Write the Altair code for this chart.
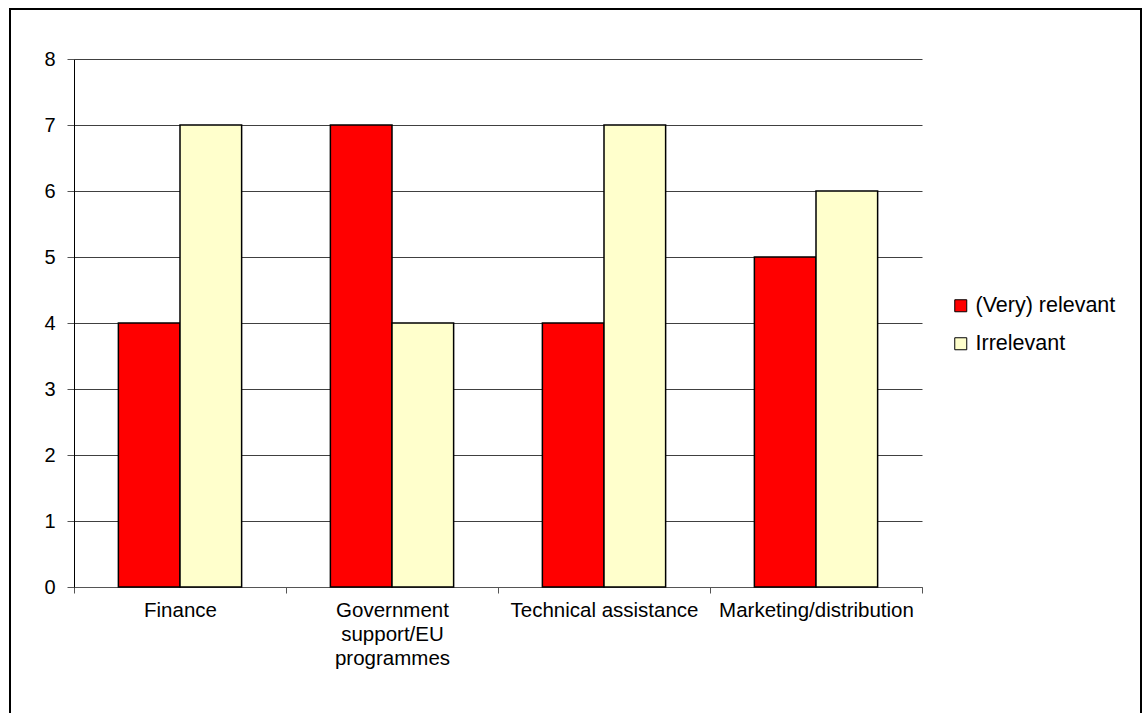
import altair as alt
import pandas as pd

# Source values
categories = [
    "Finance",
    "Government support/EU programmes",
    "Technical assistance",
    "Marketing/distribution",
]
series_names = ["(Very) relevant", "Irrelevant"]
relevant = [4, 7, 4, 5]
irrelevant = [7, 4, 7, 6]
series_colors = ["#FF0000", "#FFFFCC"]
y_ticks = [0, 1, 2, 3, 4, 5, 6, 7, 8]

rows = []
for cat, r, i in zip(categories, relevant, irrelevant):
    rows.append({"category": cat, "series": series_names[0], "value": r})
    rows.append({"category": cat, "series": series_names[1], "value": i})
df = pd.DataFrame(rows)

FONT = "Liberation Sans"

label_expr = (
    "datum.value == 'Government support/EU programmes' "
    "? ['Government', 'support/EU', 'programmes'] : datum.value"
)

bars = alt.Chart(df).mark_bar(stroke="black", strokeWidth=1.5).encode(
    x=alt.X(
        "category:N",
        sort=categories,
        title=None,
        scale=alt.Scale(paddingInner=0, paddingOuter=0),
        axis=alt.Axis(
            labelAngle=0,
            labelFont=FONT,
            labelFontSize=20.5,
            labelColor="black",
            labelLineHeight=24,
            labelExpr=label_expr,
            labelLimit=400,
            labelPadding=7,
            tickBand="extent",
            tickSize=6,
            tickColor="#555555",
            domainColor="#555555",
            grid=False,
        ),
    ),
    xOffset=alt.XOffset(
        "series:N",
        sort=series_names,
        scale=alt.Scale(paddingInner=0, paddingOuter=0.72),
    ),
    y=alt.Y(
        "value:Q",
        title=None,
        scale=alt.Scale(domain=[0, 8], nice=False),
        axis=alt.Axis(
            values=y_ticks,
            labelFont=FONT,
            labelFontSize=20,
            labelColor="black",
            labelPadding=12,
            tickSize=7,
            tickColor="#555555",
            domainColor="black",
            gridColor="#404040",
            gridWidth=1,
        ),
    ),
    fill=alt.Fill(
        "series:N",
        sort=series_names,
        scale=alt.Scale(domain=series_names, range=series_colors),
        legend=alt.Legend(
            title=None,
            orient="none",
            legendX=876,
            legendY=236,
            padding=0,
            symbolType="square",
            symbolSize=144,
            symbolStrokeColor="black",
            symbolStrokeWidth=1,
            symbolOpacity=1,
            labelFont=FONT,
            labelFontSize=21.5,
            labelColor="black",
            labelOffset=4,
            labelLimit=400,
            rowPadding=15,
        ),
    ),
)

# Frame around the whole figure
frame = alt.Chart(pd.DataFrame({"k": [0]})).mark_rect(
    fillOpacity=0, stroke="black", strokeWidth=2
).encode(
    x=alt.value(-64),
    x2=alt.value(1067),
    y=alt.value(-50),
    y2=alt.value(700),
)

chart = (
    alt.layer(bars, frame)
    .properties(
        width=848,
        height=528,
        autosize=alt.AutoSizeParams(type="none"),
        padding={"left": 74, "top": 59, "right": 220, "bottom": 126},
        background="white",
    )
    .configure_view(stroke=None)
)

chart.save("out.html", embed_options={"renderer": "svg", "actions": False})
